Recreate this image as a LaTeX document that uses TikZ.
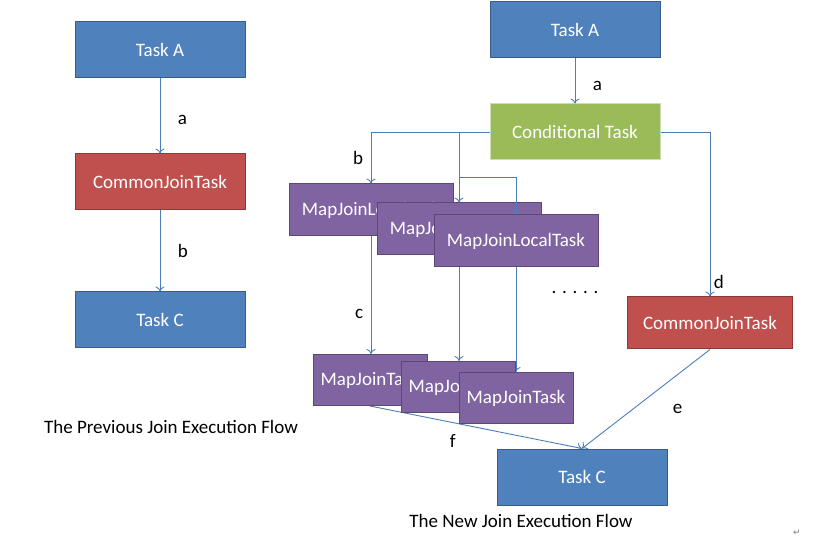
\documentclass[tikz,border=0pt]{standalone}
\usepackage{fontspec}
\setmainfont{Carlito}
\newfontfamily\symfont{DejaVu Sans}
\usetikzlibrary{arrows.meta,positioning,calc,backgrounds}
\definecolor{taskblue}{RGB}{79,129,189}
\definecolor{taskblueline}{RGB}{56,93,138}
\definecolor{taskred}{RGB}{192,80,77}
\definecolor{taskredline}{RGB}{140,56,54}
\definecolor{taskgreen}{RGB}{155,187,89}
\definecolor{taskgreenline}{RGB}{205,222,175}
\definecolor{taskpurple}{RGB}{128,100,162}
\definecolor{taskpurpleline}{RGB}{92,71,118}
\definecolor{flowblue}{RGB}{74,126,187}

\begin{document}
\begin{tikzpicture}[
  x=1pt, y=-1pt,
  box/.style={rectangle, draw=taskblueline, fill=taskblue, text=white, line width=1pt, minimum width=170pt, minimum height=56pt, font=\fontsize{19}{22}\selectfont},
  redbox/.style={box, draw=taskredline, fill=taskred, minimum width=170pt},
  greenbox/.style={box, draw=taskgreenline, fill=taskgreen},
  localbox/.style={box, draw=taskpurpleline, fill=taskpurple, minimum width=164pt, minimum height=52pt},
  mapbox/.style={localbox, minimum width=114pt, minimum height=51pt},
  arrow/.style={-{To[length=5pt,width=9pt]}, flowblue, line width=0.9pt},
  lbl/.style={font=\fontsize{19}{22}\selectfont, text=black},
  caption/.style={font=\fontsize{19}{22}\selectfont, text=black}
]
\useasboundingbox (0,0) rectangle (833,537);
\begin{pgfonlayer}{background}
\fill[white] (0,0) rectangle (833,537);
\end{pgfonlayer}

% The previous flow
\node[box] (taskA) at (160,50) {Task A};
\node[redbox] (common) at (160,182) {CommonJoinTask};
\node[box] (taskC) at (160,320) {Task C};

\draw[arrow] (taskA) -- node[lbl, right=14pt, pos=0.55] {a} (common);
\draw[arrow] (common) -- node[lbl, right=14pt] {b} (taskC);

\node[caption] (oldflow) at (171,427) {The Previous Join Execution Flow};

% The new flow
\node[box] (newA) at (575,30) {Task A};
\node[greenbox] (cond) at (575,132) {Conditional Task};

% local tasks
\node[localbox] (local1) at (371,210) {MapJoinLocalTask};
\node[localbox] (local2) at (459,229) {MapJoinLocalTask};
\node[localbox] (local3) at (516,241) {MapJoinLocalTask};

% map join tasks
\node[mapbox] (map1) at (370,380) {MapJoinTask};
\node[mapbox] (map2) at (458,387) {MapJoinTask};
\node[mapbox] (map3) at (516,398) {MapJoinTask};

\node[redbox, minimum width=165pt, minimum height=52pt] (common2) at (710,323) {CommonJoinTask};
\node[box] (newC) at (582,477) {Task C};

\node[lbl] (dots) at (575,292) {. . . . .};

% Arrows
\draw[arrow] (newA) -- node[lbl, right=14pt, pos=0.6] {a} (cond);
\begin{pgfonlayer}{background}
\draw[arrow] (cond.west) -| node[lbl, pos=0.75, left=4pt] {b} (local1.north);
\draw[arrow] (local2.north |- cond.west) -- (local2.north);
\draw[arrow] (local1.south) -- node[lbl, pos=0.66, left=4pt] {c} (local1.south |- map1.north);
\draw[arrow] (local2.south) -- (local2.south |- map2.north);
\draw[arrow] (local3.south) -- (local3.south |- map3.north);
\draw[arrow] (map1.south) -- node[lbl, pos=0.39, below=8pt] {f} (newC.north);
\end{pgfonlayer}
\coordinate (split) at ($(local2.north |- cond.west)!0.65!(local2.north)$);
\draw[arrow] (split) -| (local3.north);
\draw[arrow] (cond.east) -| node[lbl, pos=0.955, right=0pt] {d} (common2.north);
\draw[arrow] (common2.south) -- node[lbl, pos=0.6, right=36pt] {e} (newC.north);

\node[caption] (newflow) at (521,521) {The New Join Execution Flow};
\node[text=gray, font=\symfont\fontsize{9}{9}\selectfont] (mark) at (797,533) {↵};

\end{tikzpicture}
\end{document}
